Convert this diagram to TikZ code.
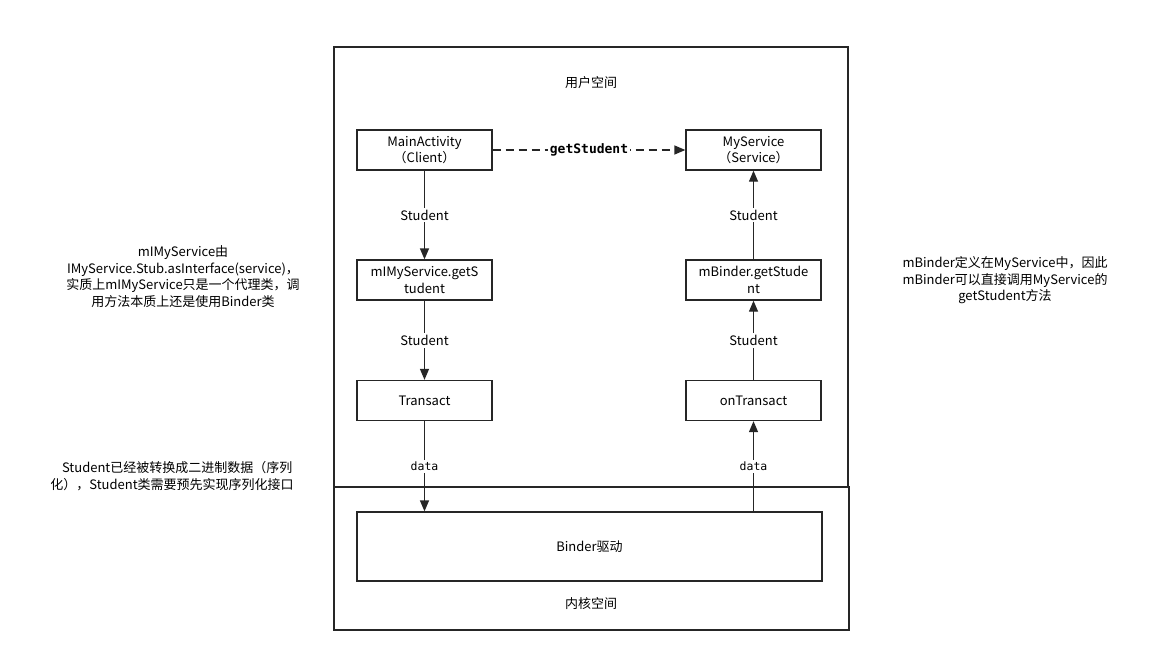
\documentclass[tikz,border=0pt]{standalone}
\usepackage{fontspec}
\setmainfont{Noto Sans CJK SC}
\newfontfamily\monofont{DejaVu Sans Mono}
\usetikzlibrary{arrows,arrows.meta}

\begin{document}
\begin{tikzpicture}[x=1pt,y=-1pt]
  \tikzstyle{every node}=[font=\fontsize{13}{16.5}\selectfont]
  \tikzstyle{space}=[line width=1.3pt,draw=black!85]
  \tikzstyle{call}=[draw=black!85, line width=1.3pt, minimum width=135pt, minimum height=40pt, inner sep=0pt, align=center]
  \tikzstyle{flow}=[line width=1.3pt, draw=black!85, -{Triangle[length=11pt,width=9pt]}]
  \tikzstyle{tag}=[fill=white, inner sep=2pt]
  \tikzstyle{note}=[align=center]

  \useasboundingbox (0,0) rectangle (1161,662);

  % user space and kernel space
  \draw[space] (334,47) rectangle (848,487);
  \draw[space] (334,487) rectangle (849,630);
  \node (user) at (591,83) {用户空间};
  \node (kernel) at (591,604) {内核空间};

  % client side
  \node[call] (main) at (424.5,150) {MainActivity\\（Client）};
  \node[call] (proxy) at (424.5,280) {mIMyService.getS\\tudent};
  \node[call] (trans) at (424.5,400.5) {Transact};

  % service side
  \node[call] (svc) at (753.5,150) {MyService\\（Service）};
  \node[call] (stub) at (753.5,280) {mBinder.getStude\\nt};
  \node[call] (ontrans) at (753.5,400.5) {onTransact};

  % driver
  \node[call, minimum width=465pt, minimum height=69pt] (drv) at (589.5,546.5) {Binder驱动};

  % calls
  \draw[flow, dash pattern=on 8pt off 5pt] (main) -- node[tag, font=\fontsize{13}{16}\monofont\bfseries] {getStudent} (svc);
  \draw[flow] (main) -- node[tag] {Student} (proxy);
  \draw[flow] (proxy) -- node[tag] {Student} (trans);
  \draw[flow] (trans) -- node[tag, font=\fontsize{11.5}{16}\monofont] {data} (trans.south |- drv.north);
  \draw[flow] (ontrans.south |- drv.north) -- node[tag, font=\fontsize{11.5}{16}\monofont] {data} (ontrans);
  \draw[flow] (ontrans) -- node[tag] {Student} (stub);
  \draw[flow] (stub) -- node[tag] {Student} (svc);

  % notes
  \node[note] (proxynote) at (183,276.5) {mIMyService由\\IMyService.Stub.asInterface(service)，\\实质上mIMyService只是一个代理类，调\\用方法本质上还是使用Binder类};
  \node[note] (datanote) at (172,476) {\hspace{0.8em}Student已经被转换成二进制数据（序列\\化），Student类需要预先实现序列化接口};
  \node[note] (stubnote) at (1005,280.5) {mBinder定义在MyService中，因此\\mBinder可以直接调用MyService的\\getStudent方法};
\end{tikzpicture}
\end{document}
